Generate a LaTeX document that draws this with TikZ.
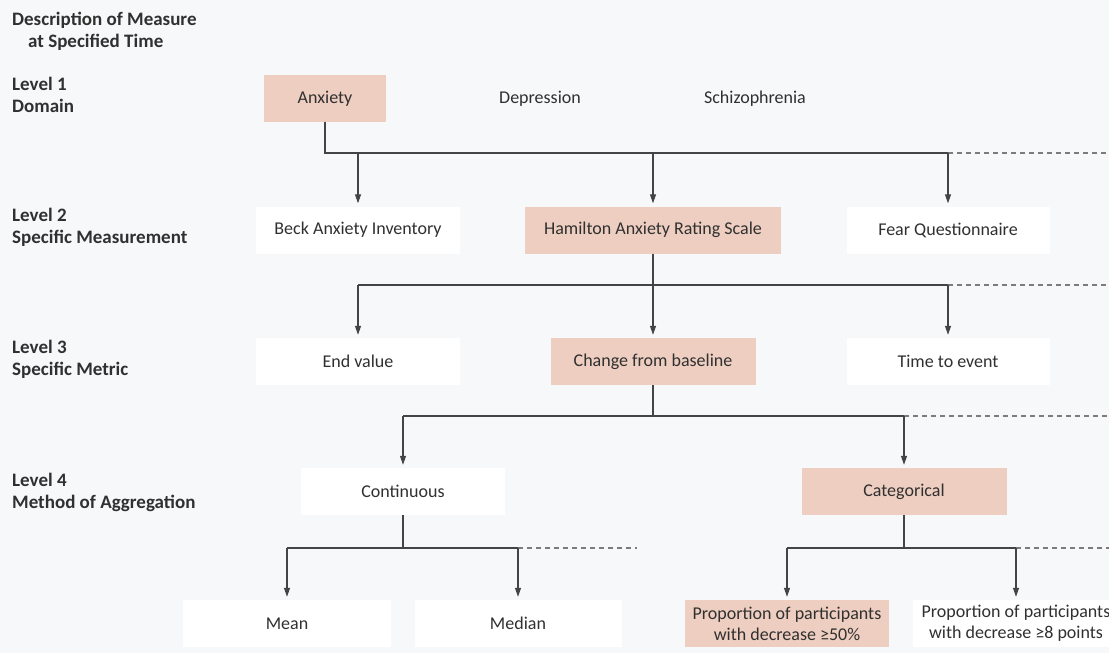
\documentclass[tikz,border=0pt]{standalone}
\usepackage{fontspec}
\setmainfont{Carlito}
\usetikzlibrary{arrows.meta}
\definecolor{bg}{RGB}{247,248,250}
\definecolor{peach}{RGB}{238,206,192}
\definecolor{ink}{RGB}{48,48,48}
\definecolor{wire}{RGB}{68,68,68}
\begin{document}
\begin{tikzpicture}[x=1pt,y=-1pt,
 every node/.style={font=\fontsize{18}{21}\selectfont, text=ink},
 box/.style={minimum height=47pt, inner sep=0pt, align=center},
 sel/.style={box, fill=peach},
 plain/.style={box, fill=white},
 free/.style={box},
 lvl/.style={anchor=north west, align=left, font=\fontsize{19}{22}\selectfont\bfseries, inner sep=0pt},
 wire/.style={draw=wire, line width=1.4pt},
 arr/.style={draw=wire, line width=1.2pt, -{Triangle[length=9pt,width=6pt]}, shorten >=3pt},
 dashline/.style={draw=wire!70, line width=1.2pt, dash pattern=on 5pt off 4pt},
]
\fill[bg] (0,0) rectangle (1109,653);
\useasboundingbox (0,0) rectangle (1109,653);

% left labels
\node[lvl] (title) at (12,12) {Description of Measure\\\hspace*{16pt}at Specified Time};
\node[lvl] (l1) at (12,77) {Level 1\\Domain};
\node[lvl] (l2) at (12,208) {Level 2\\Specific Measurement};
\node[lvl] (l3) at (12,340) {Level 3\\Specific Metric};
\node[lvl] (l4) at (12,473) {Level 4\\Method of Aggregation};

% level 1
\node[sel, minimum width=122pt] (anx) at (325,98.5) {Anxiety};
\node[free] (dep) at (540,98.5) {Depression};
\node[free] (sch) at (755,98.5) {Schizophrenia};

% level 2
\node[plain, minimum width=204pt] (beck) at (358,230) {Beck Anxiety Inventory};
\node[sel, minimum width=256pt] (ham) at (653,230) {Hamilton Anxiety Rating Scale};
\node[plain, minimum width=203pt] (fear) at (948,230) {Fear Questionnaire};

% level 3
\node[plain, minimum width=204pt] (end) at (358,361.5) {End value};
\node[sel, minimum width=205pt] (chg) at (653,361.5) {Change from baseline};
\node[plain, minimum width=203pt] (tte) at (948,361.5) {Time to event};

% level 4
\node[plain, minimum width=204pt] (cont) at (403,491.5) {Continuous};
\node[sel, minimum width=205pt] (cat) at (904,491.5) {Categorical};

% level 5
\node[plain, minimum width=208pt] (mean) at (287,623.5) {Mean};
\node[plain, minimum width=207pt] (med) at (518,623.5) {Median};
\node[sel, minimum width=204pt] (p50) at (787,623.5) {Proportion of participants\\with decrease ≥50\%};
\node[plain, minimum width=206pt] (p8) at (1016,623.5) {Proportion of participants\\with decrease ≥8 points};

\coordinate (edge) at (1109,0);

% level 1 -> 2
\coordinate (j1) at (325,153);
\draw[wire] (anx.south) -- (j1) -- (j1 -| fear.north);
\draw[dashline] (j1 -| fear.north) -- (j1 -| edge);
\draw[arr] (j1 -| beck.north) -- (beck.north);
\draw[arr] (j1 -| ham.north) -- (ham.north);
\draw[arr] (j1 -| fear.north) -- (fear.north);

% level 2 -> 3
\coordinate (j2) at (653,285);
\draw[wire] (ham.south) -- (j2);
\draw[wire] (j2 -| end.north) -- (j2 -| tte.north);
\draw[dashline] (j2 -| tte.north) -- (j2 -| edge);
\draw[arr] (j2 -| end.north) -- (end.north);
\draw[arr] (j2 -| chg.north) -- (chg.north);
\draw[arr] (j2 -| tte.north) -- (tte.north);

% level 3 -> 4
\coordinate (j3) at (653,416);
\draw[wire] (chg.south) -- (j3);
\draw[wire] (j3 -| cont.north) -- (j3 -| cat.north);
\draw[dashline] (j3 -| cat.north) -- (j3 -| edge);
\draw[arr] (j3 -| cont.north) -- (cont.north);
\draw[arr] (j3 -| cat.north) -- (cat.north);

% level 4 -> 5 (continuous)
\coordinate (j4) at (403,548);
\coordinate (d4) at (637,548);
\draw[wire] (cont.south) -- (j4);
\draw[wire] (j4 -| mean.north) -- (j4 -| med.north);
\draw[dashline] (j4 -| med.north) -- (d4);
\draw[arr] (j4 -| mean.north) -- (mean.north);
\draw[arr] (j4 -| med.north) -- (med.north);

% level 4 -> 5 (categorical)
\coordinate (j5) at (904,548);
\draw[wire] (cat.south) -- (j5);
\draw[wire] (j5 -| p50.north) -- (j5 -| p8.north);
\draw[dashline] (j5 -| p8.north) -- (j5 -| edge);
\draw[arr] (j5 -| p50.north) -- (p50.north);
\draw[arr] (j5 -| p8.north) -- (p8.north);
\end{tikzpicture}
\end{document}
